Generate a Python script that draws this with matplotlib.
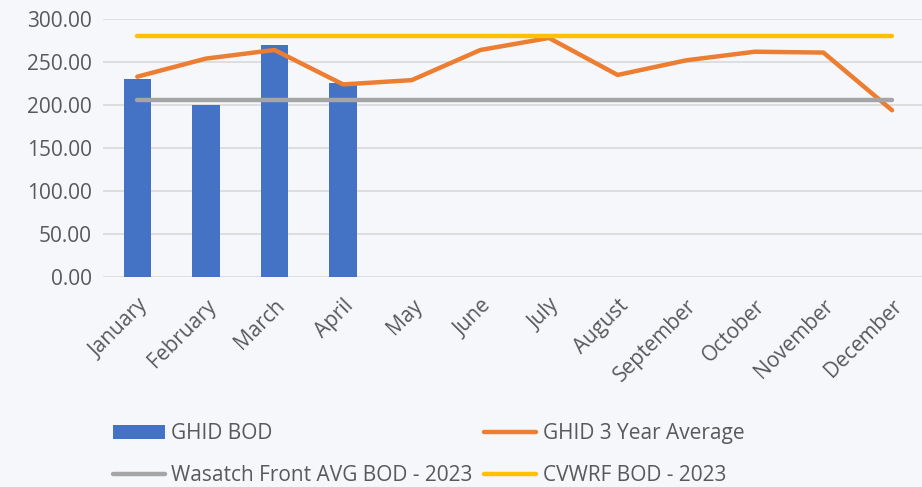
import matplotlib
matplotlib.use("Agg")
import matplotlib.pyplot as plt
import numpy as np

months = ["January", "February", "March", "April", "May", "June", "July",
          "August", "September", "October", "November", "December"]
ghid_bod = [230, 200, 270, 226]
ghid_3yr = [233, 254, 264, 224, 229, 264, 278, 235, 252, 262, 261, 194]
wasatch_avg = [205.5] * 12
cvwrf = [280] * 12
yticks = [0, 50, 100, 150, 200, 250, 300]

bg = "#f5f7fb"
txt = "#595959"
plt.rcParams['font.family'] = ['Open Sans', 'DejaVu Sans']
fs = 15

fig = plt.figure(figsize=(9.22, 4.87), dpi=100, facecolor=bg)
ax = fig.add_axes([0.1117, 0.4306, 0.893, 0.5304], facecolor=bg)

x = np.arange(len(months))
ax.bar(x[:len(ghid_bod)], ghid_bod, width=0.4, color="#4472c4", label="GHID BOD", zorder=2)
ax.plot(x, ghid_3yr, color="#ed7d31", lw=3.2, solid_capstyle="round", solid_joinstyle="round",
        label="GHID 3 Year Average", zorder=3)
ax.plot(x, wasatch_avg, color="#a5a5a5", lw=3.2, solid_capstyle="round",
        label="Wasatch Front AVG BOD - 2023", zorder=3)
ax.plot(x, cvwrf, color="#ffc000", lw=3.2, solid_capstyle="round",
        label="CVWRF BOD - 2023", zorder=3)

ax.set_xlim(-0.5, 11.5)
ax.set_ylim(0, 300)
ax.set_yticks(yticks)
ax.set_yticklabels([f"{v:.2f}" for v in yticks], fontsize=fs, color=txt)
ax.set_xticks(x)
ax.set_xticklabels(months, rotation=45, ha="right", rotation_mode="anchor",
                   fontsize=fs, color=txt)
ax.tick_params(axis="both", length=0)
ax.tick_params(axis="x", pad=13)
ax.tick_params(axis="y", pad=8)
ax.grid(axis="y", color="#dcdcdc", lw=1.3, zorder=0)
ax.set_axisbelow(True)
for s in ax.spines.values():
    s.set_visible(False)

h, l = ax.get_legend_handles_labels()
hmap = dict(zip(l, h))
order = ["GHID BOD", "Wasatch Front AVG BOD - 2023", "GHID 3 Year Average", "CVWRF BOD - 2023"]
leg = fig.legend([hmap[k] for k in order], order, ncol=2, loc="lower left",
                 bbox_to_anchor=(0.1226, 0.002), bbox_transform=fig.transFigure,
                 frameon=False, fontsize=fs, handlelength=2.5, handletextpad=0.3,
                 columnspacing=0.55, labelspacing=1.0, borderaxespad=0, borderpad=0)
for t in leg.get_texts():
    t.set_color(txt)

fig.savefig("out.png", dpi=100, facecolor=bg)
